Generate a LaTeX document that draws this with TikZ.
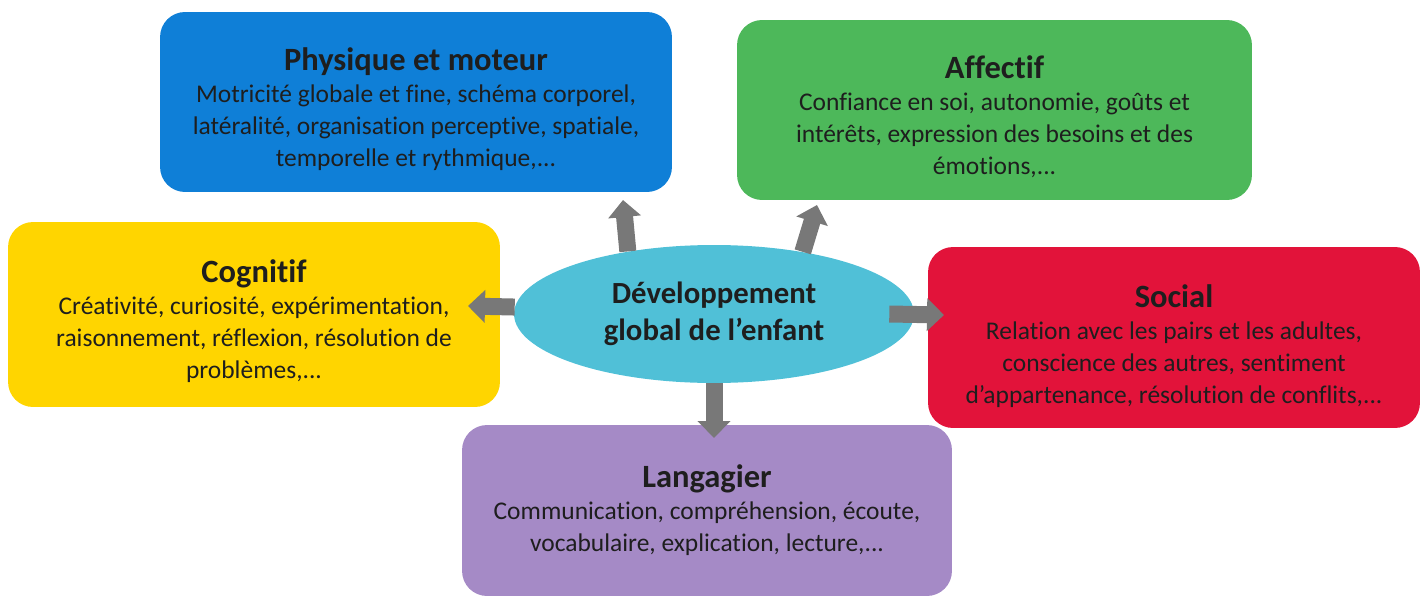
\documentclass[tikz,border=0pt]{standalone}
\usepackage{fontspec}
\setmainfont{Carlito}[Ligatures=NoCommon]
\usetikzlibrary{arrows.meta,shapes.geometric}

\definecolor{bleu}{HTML}{0F7FD7}
\definecolor{vert}{HTML}{4DB85A}
\definecolor{jaune}{HTML}{FFD500}
\definecolor{rouge}{HTML}{E2133A}
\definecolor{violet}{HTML}{A58AC6}
\definecolor{cyan}{HTML}{50C0D7}
\definecolor{gris}{HTML}{787878}
\definecolor{encre}{HTML}{1E1E1E}

\newcommand{\titre}[2][21pt]{{\fontsize{18.5}{20}\selectfont\bfseries\rule{0pt}{#1}#2}}

\begin{document}
\begin{tikzpicture}[x=0.02cm,y=-0.02cm,
  boite/.style={rounded corners=0.5cm, inner sep=0pt, align=center, text=encre,
    font=\fontsize{14.5}{18.2}\selectfont},
  fleche/.style={draw=gris, line width=0.34cm, -{Triangle[width=0.64cm,length=0.34cm]}}]
\useasboundingbox (0,0) rectangle (1427,598);

% les cinq domaines
\node [boite, fill=bleu, minimum width=10.24cm, minimum height=3.6cm] (physique) at (416,102)
  {\titre{Physique et moteur}\\ Motricité globale et fine, schéma corporel,\\
   latéralité, organisation perceptive, spatiale,\\ temporelle et rythmique,...};
\node [boite, fill=vert, minimum width=10.3cm, minimum height=3.6cm] (affectif) at (994.5,110)
  {\titre{Affectif}\\ Confiance en soi, autonomie, goûts et\\
   intérêts, expression des besoins et des\\ émotions,...};
\node [boite, fill=jaune, minimum width=9.84cm, minimum height=3.7cm] (cognitif) at (254,314.5)
  {\titre{Cognitif}\\ Créativité, curiosité, expérimentation,\\
   raisonnement, réflexion, résolution de\\ problèmes,...};
\node [boite, fill=rouge, minimum width=9.84cm, minimum height=3.62cm] (social) at (1174,337.5)
  {\titre[23pt]{Social}\\ Relation avec les pairs et les adultes,\\
   conscience des autres, sentiment\\ d’appartenance, résolution de conflits,...};
\node [boite, fill=violet, minimum width=9.8cm, minimum height=3.42cm] (langagier) at (707,510.5)
  {\titre[0pt]{Langagier}\\ Communication, compréhension, écoute,\\
   vocabulaire, explication, lecture,...};

% le centre
\node [ellipse, fill=cyan, inner sep=0pt, minimum width=8cm, minimum height=2.76cm,
  align=center, text=encre, font=\fontsize{17.5}{21}\selectfont\bfseries] (dev) at (714,314)
  {Développement\\ global de l’enfant};

% les fleches
\coordinate (pointe1) at (623,200);
\coordinate (pointe2) at (817,205);
\coordinate (pointe3) at (468,306);
\coordinate (pointe4) at (944,315);
\coordinate (pointe5) at (714,438);
\draw [fleche] (dev.144) -- (pointe1);
\draw [fleche] (dev.35) -- (pointe2);
\draw [fleche] (dev.178) -- (pointe3);
\draw [fleche] ([xshift=-0.5cm]dev.east) -- (pointe4);
\draw [fleche] (dev.south) -- (pointe5);
\end{tikzpicture}
\end{document}
